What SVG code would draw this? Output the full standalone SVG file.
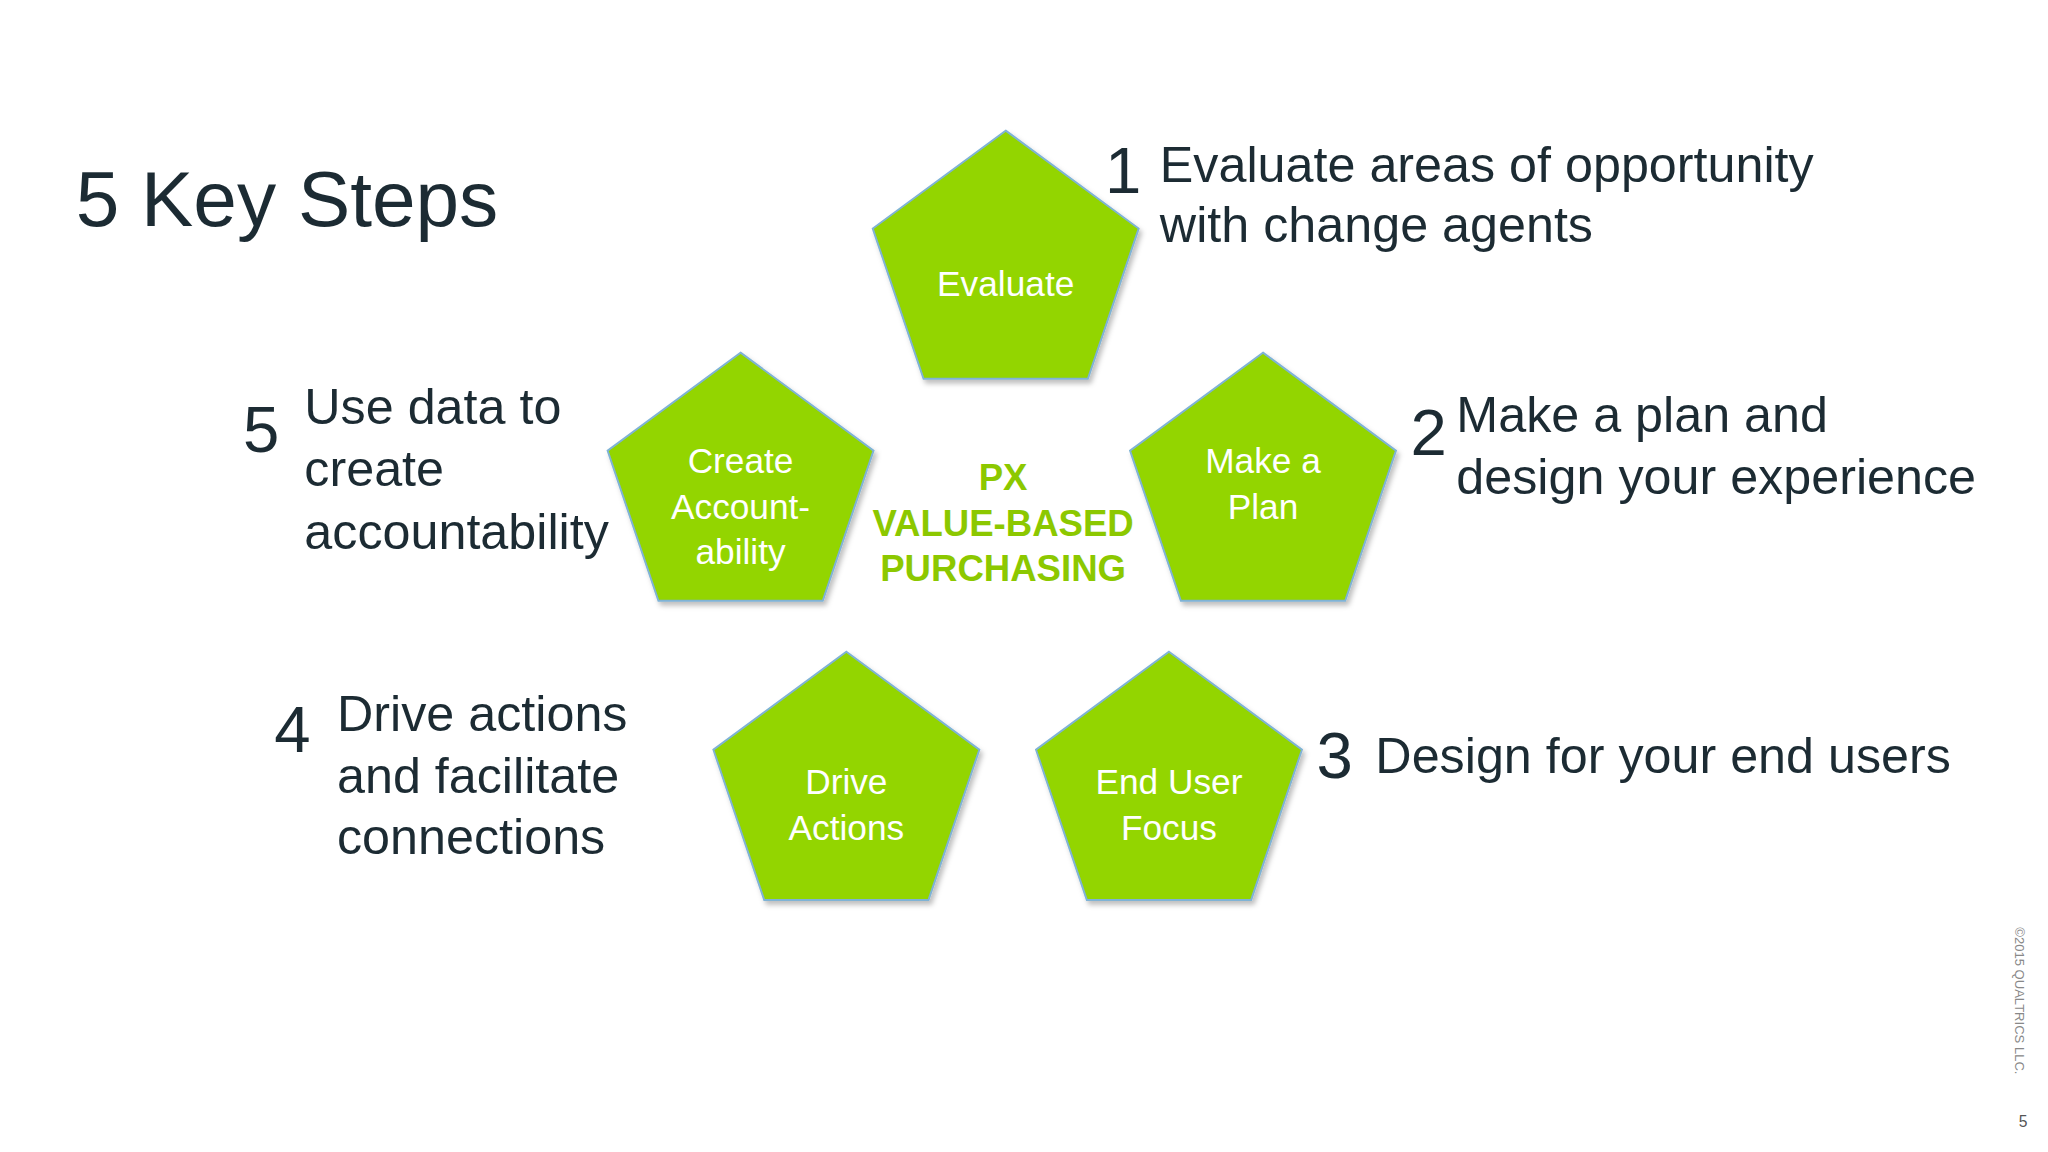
<svg xmlns="http://www.w3.org/2000/svg" width="2048" height="1152" viewBox="0 0 2048 1152">
<defs>
<style>
.p{fill:#93d500;stroke:#7fb3d5;stroke-width:1.5}
.w{font-family:"Liberation Sans",Arial,sans-serif;font-size:27px;fill:#fff;text-anchor:middle}
.d{font-family:"Liberation Sans",Arial,sans-serif;font-size:38.5px;fill:#1c2b33}
.n{font-family:"Liberation Sans",Arial,sans-serif;font-size:50px;fill:#1c2b33}
.g{font-family:"Liberation Sans",Arial,sans-serif;font-size:28px;font-weight:bold;fill:#8cc800;text-anchor:middle}
</style>
<filter id="s" x="-20%" y="-20%" width="140%" height="140%"><feDropShadow dx="2" dy="3" stdDeviation="2" flood-color="#000" flood-opacity="0.25"/></filter>
<polygon id="pent" points="0,-107 101.8,-32 62.9,83 -62.9,83 -101.8,-32"/>
</defs>
<rect width="2048" height="1152" fill="#fff"/>
<g transform="scale(1.30612)">
<text x="58" y="173" style="font-family:'Liberation Sans',Arial,sans-serif;font-size:60px;fill:#1c2b33">5 Key Steps</text>
<g id="evaluate"><use href="#pent" class="p" filter="url(#s)" transform="translate(770,207)"/><text class="w" x="770" y="227">Evaluate</text></g>
<g id="create"><use href="#pent" class="p" filter="url(#s)" transform="translate(567,377)"/><text class="w" x="567" y="362">Create</text><text class="w" x="567" y="397">Account-</text><text class="w" x="567" y="432">ability</text></g>
<g id="plan"><use href="#pent" class="p" filter="url(#s)" transform="translate(967,377)"/><text class="w" x="967" y="362">Make a</text><text class="w" x="967" y="397">Plan</text></g>
<g id="drive"><use href="#pent" class="p" filter="url(#s)" transform="translate(648,606)"/><text class="w" x="648" y="608">Drive</text><text class="w" x="648" y="643">Actions</text></g>
<g id="enduser"><use href="#pent" class="p" filter="url(#s)" transform="translate(895,606)"/><text class="w" x="895" y="608">End User</text><text class="w" x="895" y="643">Focus</text></g>
<g id="center"><text class="g" x="768" y="375">PX</text><text class="g" x="768" y="410">VALUE-BASED</text><text class="g" x="768" y="445">PURCHASING</text></g>
<g id="step1"><text class="n" x="846" y="148">1</text><text class="d" x="888" y="139">Evaluate areas of opportunity</text><text class="d" x="888" y="185">with change agents</text></g>
<g id="step2"><text class="n" x="1080" y="348">2</text><text class="d" x="1115" y="331">Make a plan and</text><text class="d" x="1115" y="378">design your experience</text></g>
<g id="step3"><text class="n" x="1008" y="596">3</text><text class="d" x="1053" y="592">Design for your end users</text></g>
<g id="step4"><text class="n" x="210" y="576">4</text><text class="d" x="258" y="560">Drive actions</text><text class="d" x="258" y="607">and facilitate</text><text class="d" x="258" y="654">connections</text></g>
<g id="step5"><text class="n" x="186" y="346">5</text><text class="d" x="233" y="325">Use data to</text><text class="d" x="233" y="372">create</text><text class="d" x="233" y="420">accountability</text></g>
<text x="1543" y="710" transform="rotate(90 1543 710)" style="font-family:'Liberation Sans',Arial,sans-serif;font-size:10px;fill:#888">©2015 QUALTRICS LLC.</text>
<text x="1549" y="863" style="font-family:'Liberation Sans',Arial,sans-serif;font-size:12px;fill:#555;text-anchor:middle">5</text>
</g>
</svg>
